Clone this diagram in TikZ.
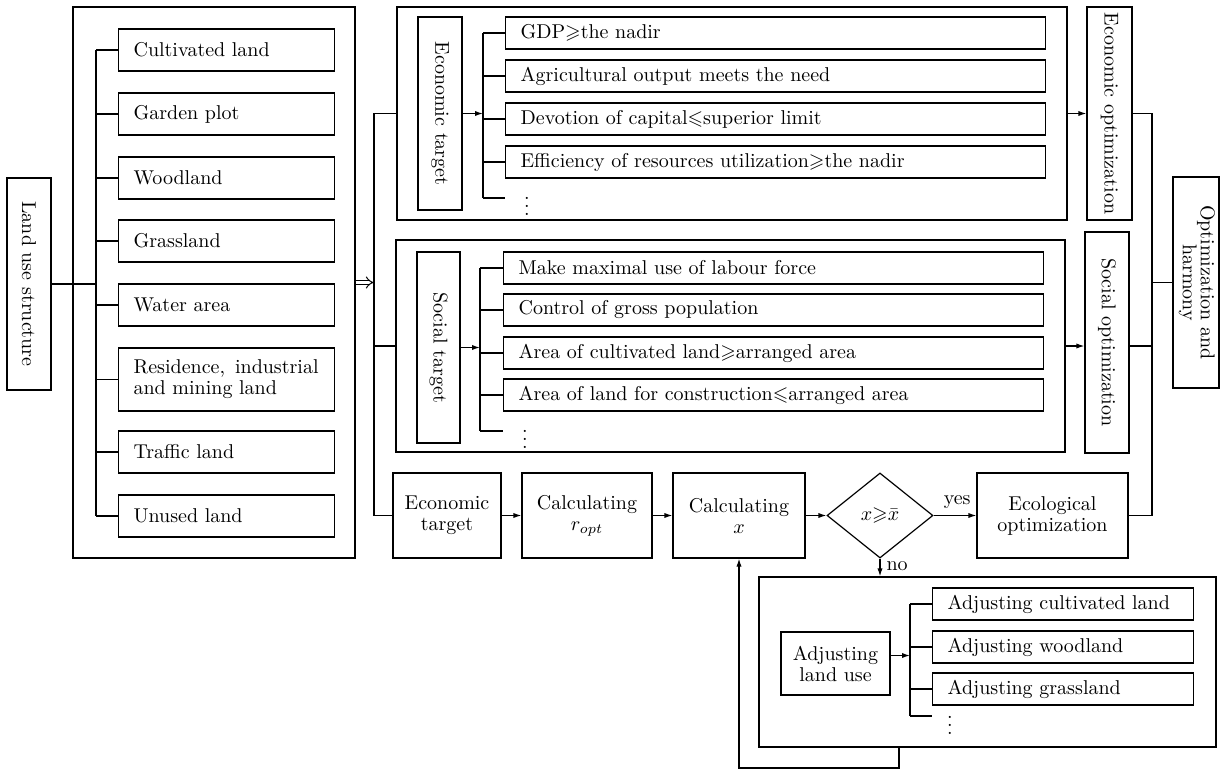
\documentclass[tikz,border=0pt]{standalone}
\usepackage{amssymb}
\usepackage{graphicx}
\usetikzlibrary{arrows.meta,shapes.geometric}
\begin{document}
\begin{tikzpicture}[x=0.5pt,y=-0.5pt,
  font=\fontsize{10}{10.5}\selectfont, line width=0.6pt,
  box/.style={draw, inner sep=0pt, align=center},
  item/.style={draw, anchor=west, align=left, inner xsep=7.5pt, inner ysep=0pt, minimum height=16pt},
  dotsnode/.style={inner sep=0pt},
  arr/.style={-{Latex[length=4pt,width=2.6pt]}},
  dbl/.style={double, double distance=1.6pt, line width=0.5pt, -{Implies}},
]
\useasboundingbox (0,0) rectangle (1223,771);

% ---------- land use structure ----------
\node[box, minimum width=22pt, minimum height=106pt] (lus) at (29,284) {\rotatebox{-90}{Land use structure}};
\node[box, minimum width=141pt, minimum height=275.5pt] (lframe) at (214,282.5) {};
\node[item, text width=93pt, minimum height=21pt] (l1) at (118,50) {Cultivated land};
\node[item, text width=93pt, minimum height=21pt] (l2) at (118,114) {Garden plot};
\node[item, text width=93pt, minimum height=21pt] (l3) at (118,178) {Woodland};
\node[item, text width=93pt, minimum height=21pt] (l4) at (118,241) {Grassland};
\node[item, text width=93pt, minimum height=21pt] (l5) at (118,305) {Water area};
\node[item, text width=93pt, minimum height=31.5pt] (l6) at (118,379.5) {Residence,\enspace industrial\\and mining land};
\node[item, text width=93pt, minimum height=21pt] (l7) at (118,452) {Traffic land};
\node[item, text width=93pt, minimum height=21pt] (l8) at (118,516) {Unused land};
\coordinate (lbt) at (96,50);
\coordinate (lbb) at (96,516);
\draw (lbt) -- (lbb);
\draw (lus.east) -- (lus.east -| lbt);
\foreach \n in {l1,l2,l3,l4,l5,l6,l7,l8} \draw (\n.west -| lbt) -- (\n.west);

% ---------- main bus ----------
\coordinate (mbt) at (374,113.5);
\coordinate (mbb) at (374,515.5);
\draw[dbl] (lframe.east) -- (lframe.east -| mbt);

% ---------- economic frame ----------
\node[box, minimum width=335pt, minimum height=106.5pt] (eframe) at (732,113.5) {};
\node[box, minimum width=22pt, minimum height=96.5pt] (etgt) at (440,113.5) {\rotatebox{-90}{Economic target}};
\node[item, text width=255pt] (e1) at (505,33) {GDP$\geqslant$the nadir};
\node[item, text width=255pt] (e2) at (505,76) {Agricultural output meets the need};
\node[item, text width=255pt] (e3) at (505,119) {Devotion of capital$\leqslant$superior limit};
\node[item, text width=255pt] (e4) at (505,162) {Efficiency of resources utilization$\geqslant$the nadir};
\node[dotsnode] (edots) at (527,200) {$\vdots$};
\coordinate (ebt) at (483,33);
\coordinate (ebb) at (483,198);
\draw (ebt) -- (ebb);
\draw[arr] (etgt.east) -- (etgt.east -| ebt);
\foreach \n in {e1,e2,e3,e4} \draw (\n.west -| ebt) -- (\n.west);
\draw (ebb) -- (ebb -| e1.west);
\node[box, minimum width=22.5pt, minimum height=106.5pt] (eopt) at (1109.5,113.5) {\rotatebox{-90}{Economic optimization}};
\draw[arr] (eframe.east) -- (eopt.west);

% ---------- social frame ----------
\node[box, minimum width=334.5pt, minimum height=106pt] (sframe) at (730.5,346) {};
\node[box, minimum width=21.5pt, minimum height=95.5pt] (stgt) at (438.5,347.5) {\rotatebox{-90}{Social target}};
\node[item, text width=255pt] (s1) at (503,268) {Make maximal use of labour force};
\node[item, text width=255pt] (s2) at (503,310) {Control of gross population};
\node[item, text width=255pt] (s3) at (503,353) {Area of cultivated land$\geqslant$arranged area};
\node[item, text width=255pt] (s4) at (503,395) {Area of land for construction$\leqslant$arranged area};
\node[dotsnode] (sdots) at (525,433) {$\vdots$};
\coordinate (sbt) at (480,268);
\coordinate (sbb) at (480,431);
\draw (sbt) -- (sbb);
\draw[arr] (stgt.east) -- (stgt.east -| sbt);
\foreach \n in {s1,s2,s3,s4} \draw (\n.west -| sbt) -- (\n.west);
\draw (sbb) -- (sbb -| s1.west);
\node[box, minimum width=22pt, minimum height=110.5pt] (sopt) at (1107,342.5) {\rotatebox{-90}{Social optimization}};
\draw[arr] (sframe.east) -- (sframe.east -| sopt.west);

% ---------- harmony ----------
\node[box, minimum width=23pt, minimum height=105.5pt] (harm) at (1196,282.5)
  {\rotatebox{-90}{\begin{tabular}{@{}c@{}}Optimization and\\[-1.5pt]harmony\end{tabular}}};

% ---------- bottom row ----------
\node[box, minimum width=54pt, minimum height=42.5pt] (ecot) at (447,515.5) {Economic\\target};
\node[box, minimum width=65pt, minimum height=42.5pt] (calr) at (587,515.5) {Calculating\\$r_{opt}$};
\node[box, minimum width=66pt, minimum height=42.5pt] (calx) at (739,515.5) {Calculating\\$x$};
\node[draw, diamond, inner sep=0pt, minimum width=53pt, minimum height=42.5pt] (dec) at (880,515.5) {$x{\geqslant}\bar{x}$};
\node[box, minimum width=75.5pt, minimum height=42.5pt] (ecoopt) at (1052.5,515.5) {Ecological\\optimization};
\draw[arr] (ecot.east) -- (calr.west);
\draw[arr] (calr.east) -- (calx.west);
\draw[arr] (calx.east) -- (dec.west);
\draw[arr] (dec.east) -- node[above, pos=0.55] {yes} (ecoopt.west);

% main bus connections
\draw (eframe.west) -- (mbt) -- (mbb) -- (ecot.west);
\draw (sframe.west) -- (sframe.west -| mbt);

% right bus
\coordinate (rbt) at (1152,113.5);
\coordinate (rbb) at (1152,515.5);
\draw (eopt.east) -- (rbt) -- (rbb) -- (ecoopt.east);
\draw (sopt.east |- sframe.east) -- (sframe.east -| rbt);
\draw (harm.west -| rbt) -- (harm.west);

% ---------- adjusting frame ----------
\node[box, minimum width=228.5pt, minimum height=85pt] (aframe) at (987.5,662) {};
\draw[arr] (dec.south) -- node[right, pos=0.45, inner xsep=3pt] {no} (dec.south |- aframe.north);
\node[box, minimum width=54.5pt, minimum height=31.5pt] (alu) at (835.5,663.5) {Adjusting\\land use};
\node[item, text width=115.5pt] (a1) at (932,604) {Adjusting cultivated land};
\node[item, text width=115.5pt] (a2) at (932,647) {Adjusting woodland};
\node[item, text width=115.5pt] (a3) at (932,689) {Adjusting grassland};
\node[dotsnode] (adots) at (950,719) {$\vdots$};
\coordinate (abt) at (910,604);
\coordinate (abb) at (910,716);
\draw (abt) -- (abb);
\draw[arr] ([yshift=4pt]alu.east) -- ([yshift=4pt]alu.east -| abt);
\foreach \n in {a1,a2,a3} \draw (\n.west -| abt) -- (\n.west);
\draw (abb) -- (abb -| a1.west);

% feedback
\coordinate (fb) at (899,768);
\draw[arr] (fb |- aframe.south) -- (fb) -| (calx.south);
\end{tikzpicture}
\end{document}
